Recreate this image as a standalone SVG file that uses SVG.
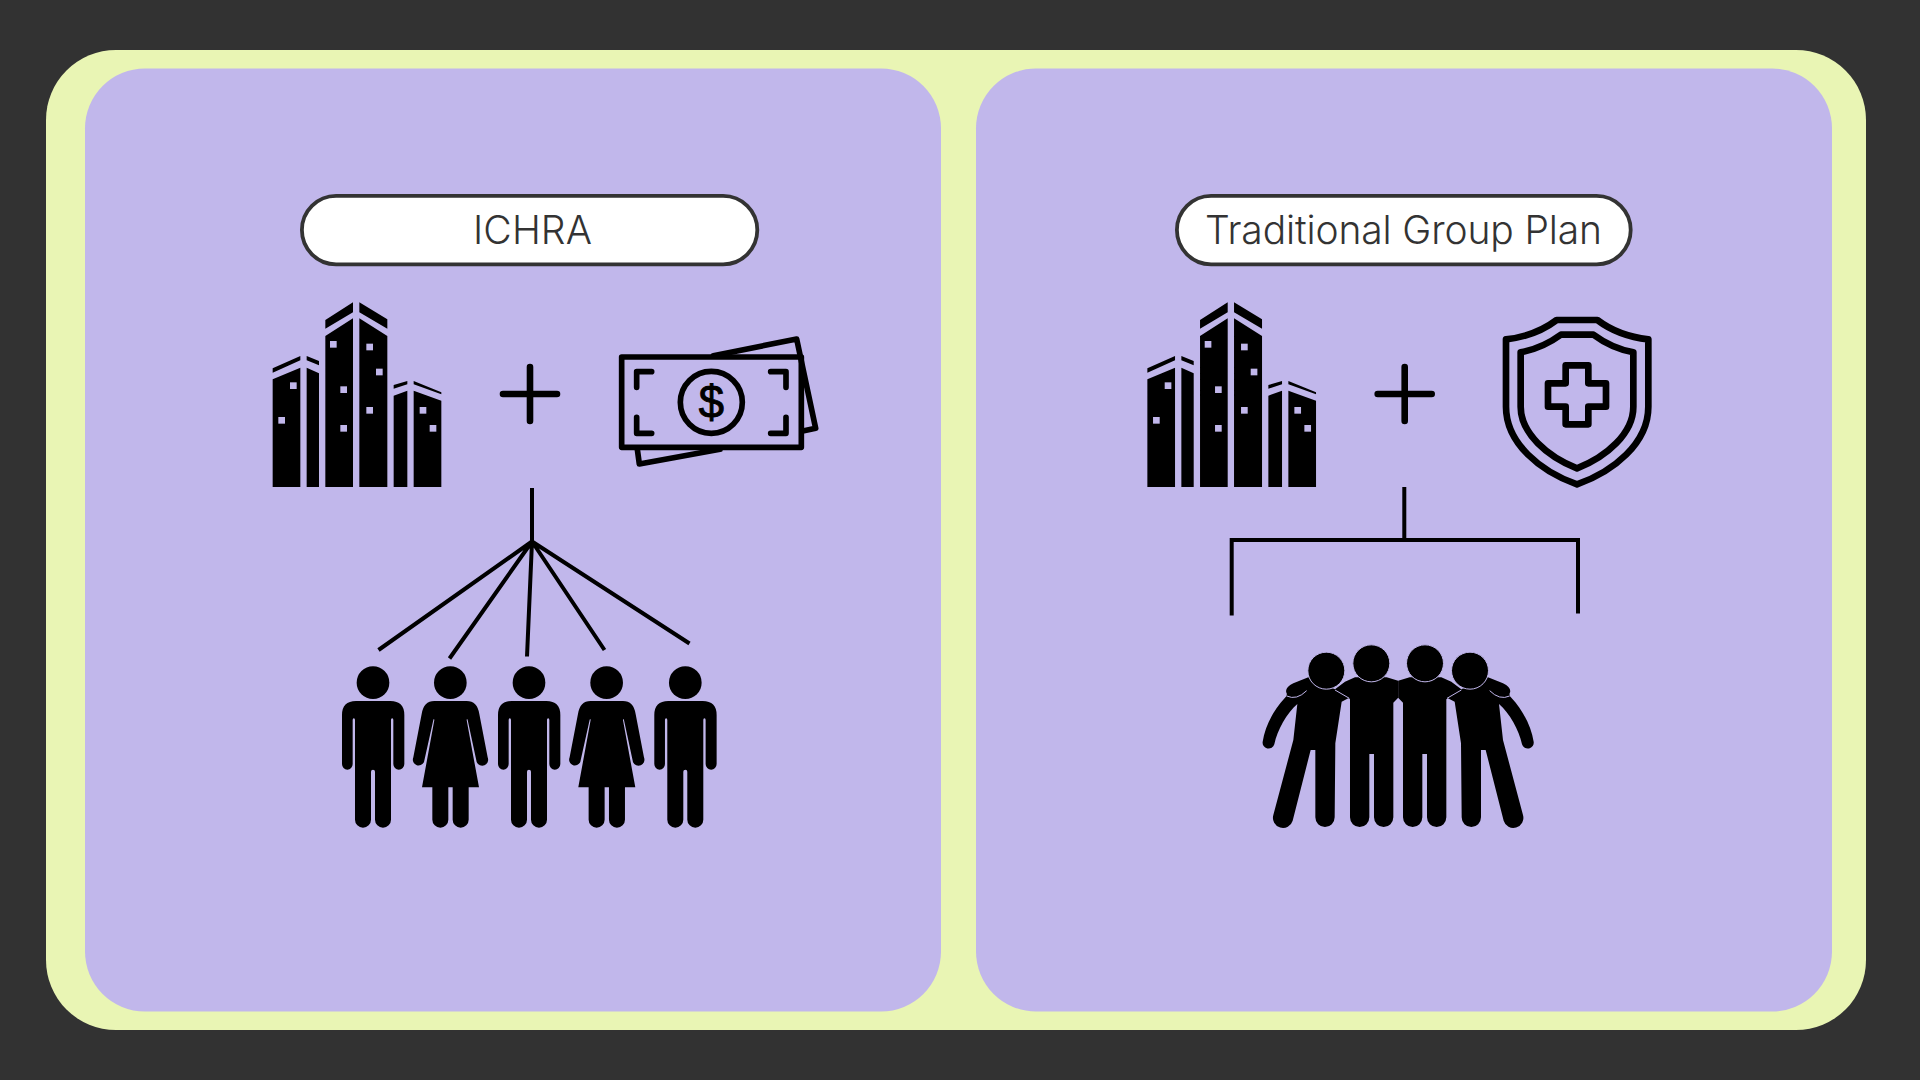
<svg xmlns="http://www.w3.org/2000/svg" xmlns:xlink="http://www.w3.org/1999/xlink" width="1920" height="1080" viewBox="0 0 1920 1080">
<style>
.panel{fill:#c1b7eb}
.pill{fill:#fff;stroke:#333;stroke-width:3.8}
.label{font-family:"Inter","Lato","Liberation Sans",sans-serif;font-weight:300;font-size:39px;fill:#333;text-anchor:start}
.ink{fill:#000}
.z{fill:none;stroke:#000;stroke-linejoin:round;stroke-linecap:round}
.conn{fill:none;stroke:#000;stroke-width:4;stroke-linecap:butt;stroke-linejoin:miter}
.plus{fill:none;stroke:#000;stroke-width:6.6;stroke-linecap:round}
.win{fill:#c1b7eb}
.halo{fill:#000;stroke:#c1b7eb;stroke-width:3}
</style>
<defs>
<g id="building" transform="translate(250 280) scale(.33333)">
<path class="ink" d="M68 298L151 263V621H68ZM170 263L207 280V621H170ZM226 168L309 115V621H226ZM328 115L412 168V621H328ZM431 347L472 332V621H431ZM491 332L574 362V621H491Z"/>
<path class="ink" d="M68 265L151 228V241L68 278ZM170 228L207 243V256L170 241ZM226 120L309 67V97L226 146ZM328 67L412 118V146L328 97ZM431 315L472 303V313L431 326ZM491 303L574 337V343L491 313Z"/>
<g class="win">
<rect x="120" y="307" width="20" height="20"/><rect x="85" y="411" width="20" height="20"/><rect x="240" y="183" width="20" height="20"/><rect x="349" y="191" width="20" height="20"/><rect x="378" y="266" width="20" height="20"/><rect x="271" y="319" width="20" height="20"/><rect x="349" y="381" width="20" height="20"/><rect x="271" y="435" width="20" height="20"/><rect x="509" y="381" width="20" height="20"/><rect x="539" y="435" width="20" height="20"/>
</g>
</g>
<g id="man" transform="translate(320 640) scale(.33333)">
<circle class="ink" cx="159" cy="128" r="49"/>
<path class="ink" d="M66 225Q66 183 108 183H211Q253 183 253 225V372A16.500 17 0 0 1 220 372V240Q220 235 216.500 235T213 240V539A24 24 0 0 1 165 539V395A6 6 0 0 0 153 395V539A24 24 0 0 1 105 539V240Q105 235 101.500 235T98 240V372A16 17 0 0 1 66 372Z"/>
</g>
<g id="woman" transform="translate(320 640) scale(.33333)">
<circle class="ink" cx="391" cy="128" r="49"/>
<path class="ink" d="M343 183H440Q472 183 478 222L503 352A16.500 16.500 0 0 1 470 366L443 240Q441 234 440 240L477 442H446V539A24 24 0 0 1 398 539V442H385V539A24 24 0 0 1 337 539V442H306L343 240Q342 234 340 240L312 366A16.500 16.500 0 0 1 280 352L305 222Q311 183 343 183Z"/>
</g>
<path id="halfgroup" class="ink" d="M474.500 152L440 142H345L315 155L285 178L205 142L160 160Q132 174 140 190Q142 198 135 203C100 240 75 290 68 335A18 18 0 0 0 103 343C112 300 140 250 172 222L160 330L100 555A30 30 0 0 0 158 572L212 360H226V562A29 29 0 0 0 284 562L286 340L305 215L325 205L330 208V562A29 29 0 0 0 388 562V372H402V562A29 29 0 0 0 460 562V218L474.500 203Z"/>
</defs>
<rect width="1920" height="1080" fill="#323232"/>
<rect x="46" y="50" width="1820" height="980" rx="70" fill="#e9f5b4"/>
<g id="panel-ichra"><rect class="panel" x="85" y="68.500" width="856" height="943" rx="60"/></g>
<g id="panel-group"><rect class="panel" x="976" y="68.500" width="856" height="943" rx="60"/></g>

<g id="connectors">
<path class="conn" d="M532 488V541.500M532 541.500L378.500 650M532 541.500L449.500 658.500M532 541.500L527 656.500M532 541.500L604.500 650M532 541.500L689.500 643.500"/>
<path class="conn" d="M1404.300 487V540M1231.700 615.500V540H1578V613.500"/>
</g>

<g id="pill-ichra"><rect class="pill" x="301.900" y="195.900" width="455.400" height="68.400" rx="34.200"/><text class="label" x="473" y="244" textLength="119" lengthAdjust="spacing">ICHRA</text></g>
<g id="pill-group"><rect class="pill" x="1176.900" y="195.900" width="453.800" height="68.400" rx="34.200"/><text class="label" x="1205" y="244" textLength="397" lengthAdjust="spacing">Traditional Group Plan</text></g>

<g id="building-ichra"><use href="#building"/></g>
<g id="plus-ichra"><path class="plus" d="M503 394H557M530 367V421"/></g>
<g id="money" transform="translate(480 180) scale(.33333)">
<path class="z" stroke-width="17" d="M700 527L950 477L1007 745L972 752M472 808L478 852L720 808"/>
<rect class="z" stroke-width="17" x="425" y="531" width="539" height="271"/>
<circle class="z" stroke-width="17" cx="694" cy="667" r="93"/>
<path class="z" stroke-width="17" d="M470 622V575H515M872 575H918V622M470 712V760H515M872 760H918V712"/>
<text x="694" y="714" font-family="'Liberation Sans',sans-serif" font-weight="400" font-size="136" text-anchor="middle" fill="#000" stroke="#000" stroke-width="3">$</text>
</g>

<g id="people-ichra">
<g id="person-1"><use href="#man"/></g>
<g id="person-2"><use href="#woman"/></g>
<g id="person-3"><use href="#man" x="156"/></g>
<g id="person-4"><use href="#woman" x="156.300"/></g>
<g id="person-5"><use href="#man" x="312.300"/></g>
</g>

<g id="building-group"><use href="#building" x="874.700"/></g>
<g id="plus-group"><path class="plus" d="M1377.700 394H1431.700M1404.700 367V421"/></g>
<g id="shield" transform="translate(1480 300) scale(.33333)">
<path class="z" stroke-width="20" d="M230 60H352Q415 108 505 118V320C505 430 400 515 291 553C182 515 78 430 78 320V118Q167 108 230 60Z"/>
<path class="z" stroke-width="20" d="M243 104H340Q395 145 460 157V320C460 400 380 470 291 505C202 470 122 400 122 320V157Q187 145 243 104Z"/>
<path class="z" stroke-width="20" d="M257 196H325V250H378V320H325V373H257V320H204V250H257Z"/>
</g>
<g id="team" transform="translate(1240 630) scale(.33333)">
<use href="#halfgroup"/>
<use href="#halfgroup" transform="translate(949 0) scale(-1 1)"/>
<path fill="none" stroke="#c1b7eb" stroke-width="3" d="M140 198Q170 212 200 182M285 180L328 205M809 198Q779 212 749 182M664 180L621 205"/>
<circle class="halo" cx="394" cy="100" r="55.500"/>
<circle class="halo" cx="555" cy="100" r="55.500"/>
<circle class="halo" cx="259" cy="122" r="55.500"/>
<circle class="halo" cx="690" cy="122" r="55.500"/>
</g>
</svg>
